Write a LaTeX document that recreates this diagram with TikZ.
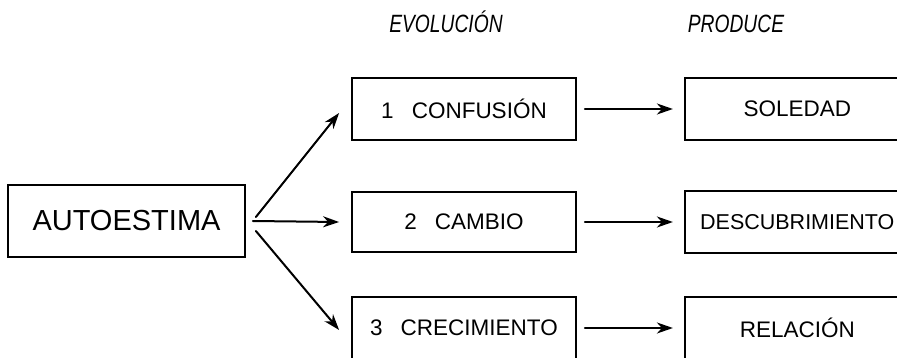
\documentclass[tikz,border=0pt]{standalone}
\usepackage{fontspec}
\setmainfont{Liberation Sans}
\newfontfamily\headfont[FakeStretch=0.77]{Liberation Sans}
\usepackage{tikz}
\usetikzlibrary{arrows.meta,positioning}
\begin{document}
\begin{tikzpicture}[x=1pt,y=-1pt,line cap=round]
	\tikzstyle{caja}=[draw,line width=1.8pt,rectangle,inner sep=0pt,font=\fontsize{22.5}{26}\selectfont];
	\tikzstyle{grande}=[caja,font=\fontsize{29}{34}\selectfont];
	\tikzstyle{cab}=[inner sep=0pt,anchor=base,font=\headfont\itshape\fontsize{25}{29}\selectfont];
	\tikzstyle{flecha}=[line width=2pt,-{Stealth[length=16pt,width=11pt,inset=5pt]}];
	\newcommand{\sep}{\hspace{0.8em}}
	%%
	\useasboundingbox (0,0) rectangle (897,358);
	%%
	\node[cab] (evo) at (446,33) {EVOLUCIÓN};
	\node[cab] (pro) at (736,33) {PRODUCE};
	%%
	\node[grande,minimum width=237pt,minimum height=72pt] (auto) at (126.5,221) {AUTOESTIMA};
	%%
	\node[caja,minimum width=224pt,minimum height=62pt] (c1) at (464,109) {1\sep CONFUSIÓN};
	\node[caja,minimum width=224pt,minimum height=60pt] (c2) at (464,222) {2\sep CAMBIO};
	\node[caja,minimum width=224pt,minimum height=62pt] (c3) at (464,328) {3\sep CRECIMIENTO};
	%%
	\node[caja,minimum width=225pt,minimum height=62pt,right=107pt of c1] (p1) {SOLEDAD};
	\node[caja,minimum width=225pt,minimum height=62pt,right=107pt of c2,font=\fontsize{21.5}{26}\selectfont] (p2) {DESCUBRIMIENTO\hspace{6pt}};
	\node[caja,minimum width=225pt,minimum height=62pt,right=107pt of c3] (p3) {RELACIÓN};
	%%
	\draw[flecha] ([shift={(10,-4)}]auto.east) -- ([shift={(-12,4)}]c1.west);
	\draw[flecha] ([shift={(7,0)}]auto.east)   -- ([shift={(-12,0)}]c2.west);
	\draw[flecha] ([shift={(10,10)}]auto.east) -- ([shift={(-12,2)}]c3.west);
	%%
	\draw[flecha] ([xshift=8pt]c1.east) -- ([xshift=-11pt]p1.west);
	\draw[flecha] ([xshift=8pt]c2.east) -- ([xshift=-11pt]p2.west);
	\draw[flecha] ([xshift=8pt]c3.east) -- ([xshift=-11pt]p3.west);
\end{tikzpicture}
\end{document}
